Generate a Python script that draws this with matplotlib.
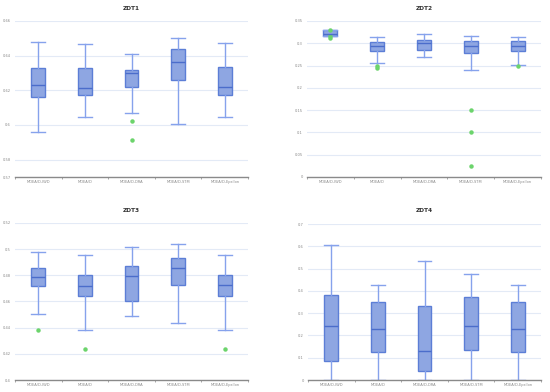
import matplotlib
matplotlib.use("Agg")
import matplotlib.pyplot as plt
import numpy as np

algorithms = ["MOEA/D-IWD", "MOEA/D", "MOEA/D-DRA", "MOEA/D-STM", "MOEA/D-Epsilon"]

# ZDT1 stats: [whislo, q1, med, q3, whishi]
zdt1_stats = [
    [0.5959, 0.6164, 0.6230, 0.6330, 0.6478],
    [0.6045, 0.6173, 0.6211, 0.6330, 0.6468],
    [0.6068, 0.6221, 0.6298, 0.6320, 0.6407],
    [0.6005, 0.6257, 0.6366, 0.6437, 0.6500],
    [0.6045, 0.6175, 0.6221, 0.6332, 0.6472],
]
zdt1_fliers = [[], [], [0.6022, 0.5915], [], []]

zdt2_stats = [
    [0.3157, 0.3157, 0.3217, 0.3290, 0.3290],
    [0.2547, 0.2830, 0.2941, 0.3023, 0.3150],
    [0.2696, 0.2852, 0.3016, 0.3083, 0.3217],
    [0.2390, 0.2785, 0.2941, 0.3046, 0.3172],
    [0.2517, 0.2830, 0.2949, 0.3053, 0.3150],
]
zdt2_fliers = [[0.3290, 0.3157, 0.3120], [0.2480, 0.2435], [], [0.1504, 0.1013, 0.0238], [0.2487]]

zdt3_stats = [
    [0.4504, 0.4716, 0.4785, 0.4853, 0.4976],
    [0.4385, 0.4640, 0.4721, 0.4803, 0.4955],
    [0.4492, 0.4604, 0.4792, 0.4869, 0.5019],
    [0.4436, 0.4729, 0.4856, 0.4935, 0.5042],
    [0.4385, 0.4640, 0.4723, 0.4803, 0.4955],
]
zdt3_fliers = [[0.4382], [0.4234], [], [], [0.4234]]

zdt4_stats = [
    [0.001, 0.0850, 0.2403, 0.3806, 0.6075],
    [0.0, 0.1254, 0.2284, 0.3478, 0.4254],
    [0.0, 0.0403, 0.1299, 0.3313, 0.5328],
    [0.0, 0.1328, 0.2418, 0.3716, 0.4746],
    [0.0, 0.1254, 0.2284, 0.3507, 0.4254],
]
zdt4_fliers = [[], [], [], [], []]

titles = ["ZDT1", "ZDT2", "ZDT3", "ZDT4"]
ylims = [(0.57, 0.66), (0.0, 0.35), (0.40, 0.52), (0.0, 0.70)]
yticks = [
    [0.57, 0.58, 0.60, 0.62, 0.64, 0.66],
    [0, 0.05, 0.1, 0.15, 0.2, 0.25, 0.3, 0.35],
    [0.4, 0.42, 0.44, 0.46, 0.48, 0.5, 0.52],
    [0, 0.1, 0.2, 0.3, 0.4, 0.5, 0.6, 0.7],
]
ytick_labels = [
    ["0.57", "0.58", "0.6", "0.62", "0.64", "0.66"],
    ["0", "0.05", "0.1", "0.15", "0.2", "0.25", "0.3", "0.35"],
    ["0.4", "0.42", "0.44", "0.46", "0.48", "0.5", "0.52"],
    ["0", "0.1", "0.2", "0.3", "0.4", "0.5", "0.6", "0.7"],
]
all_stats = [zdt1_stats, zdt2_stats, zdt3_stats, zdt4_stats]
all_fliers = [zdt1_fliers, zdt2_fliers, zdt3_fliers, zdt4_fliers]

W, H = 550, 392
fig = plt.figure(figsize=(W / 100, H / 100), dpi=100)
fig.patch.set_facecolor("white")

# axes rectangles in pixels: (left, top, right, bottom)
rects = [(15, 21, 248, 177), (307, 21, 541, 177), (15, 223, 248, 380), (308, 224, 541, 380)]
title_y = [9, 9, 211, 211]

for i in range(4):
    l, t, r, b = rects[i]
    ax = fig.add_axes([l / W, 1 - b / H, (r - l) / W, (b - t) / H])
    stats = []
    for j, name in enumerate(algorithms):
        lo, q1, med, q3, hi = all_stats[i][j]
        stats.append(dict(whislo=lo, q1=q1, med=med, q3=q3, whishi=hi,
                          fliers=all_fliers[i][j], label=name))
    ax.bxp(stats, positions=np.arange(len(algorithms)), widths=0.3,
           patch_artist=True, showfliers=True,
           boxprops=dict(facecolor="#8EA6E2", edgecolor="#5C7ED6", linewidth=1.0),
           medianprops=dict(color="#4B6DCB", linewidth=1.0),
           whiskerprops=dict(color="#86A2EC", linewidth=1.0),
           capprops=dict(color="#86A2EC", linewidth=1.0),
           capwidths=0.3,
           flierprops=dict(marker="o", markersize=2.2, markerfacecolor="#6CD46C",
                           markeredgecolor="#6CD46C"))
    ax.set_xlim(-0.5, len(algorithms) - 0.5)
    ax.set_ylim(*ylims[i])
    ax.set_yticks(yticks[i])
    ax.set_yticklabels(ytick_labels[i])
    ax.set_xticks(np.arange(len(algorithms)))
    ax.set_xticklabels(algorithms)
    ax.set_xticks(np.arange(len(algorithms) + 1) - 0.5, minor=True)
    ax.tick_params(axis="x", which="major", length=0, labelsize=2.6, colors="#888888", pad=2)
    ax.tick_params(axis="x", which="minor", length=1.5, color="#999999")
    ax.tick_params(axis="y", length=0, labelsize=2.6, colors="#888888", pad=3)
    ax.grid(axis="y", color="#E3EAF6", linewidth=0.8)
    ax.set_axisbelow(True)
    for s in ["top", "right", "left"]:
        ax.spines[s].set_visible(False)
    ax.spines["bottom"].set_color("#8A8A8A")
    ax.spines["bottom"].set_linewidth(1.0)
    fig.text(((l + r) / 2) / W, 1 - title_y[i] / H, titles[i], ha="center", va="center",
             fontsize=4.2, fontweight="bold", color="#333333")

fig.savefig("out.png", dpi=100, facecolor="white")
